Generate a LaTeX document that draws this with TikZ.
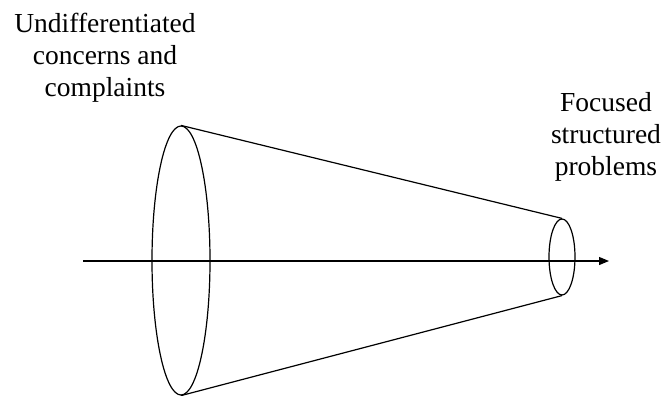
\documentclass[tikz,border=0pt]{standalone}
\usepackage{fontspec}
\setmainfont{Liberation Serif}
\usetikzlibrary{shapes.geometric,arrows.meta}
\begin{document}
\begin{tikzpicture}[x=1pt,y=-1pt,
  lbl/.style={inner sep=0pt,align=center,font=\fontsize{27.5}{32}\selectfont},
  rim/.style={draw,ellipse,inner sep=0pt,line width=1.2pt},
  edge/.style={line width=1.2pt},
  axis/.style={line width=1.2pt,-{Triangle[length=10pt,width=8pt]}}]
\useasboundingbox (0,0) rectangle (664,396);
\node[lbl,anchor=north] (left) at (105,13) {Undifferentiated\\concerns and\\complaints};
\node[lbl,anchor=north] (right) at (606,92) {Focused\\structured\\problems};
\node[rim,minimum width=58pt,minimum height=269pt] (big) at (181,260.5) {};
\node[rim,minimum width=26pt,minimum height=76pt] (small) at (562,257) {};
\draw[edge] (big.north) -- (small.north);
\draw[edge] (big.south) -- (small.south);
\coordinate (a0) at (83,261);
\coordinate (a1) at (609,261);
\draw[axis] (a0) -- (a1);
\end{tikzpicture}
\end{document}
